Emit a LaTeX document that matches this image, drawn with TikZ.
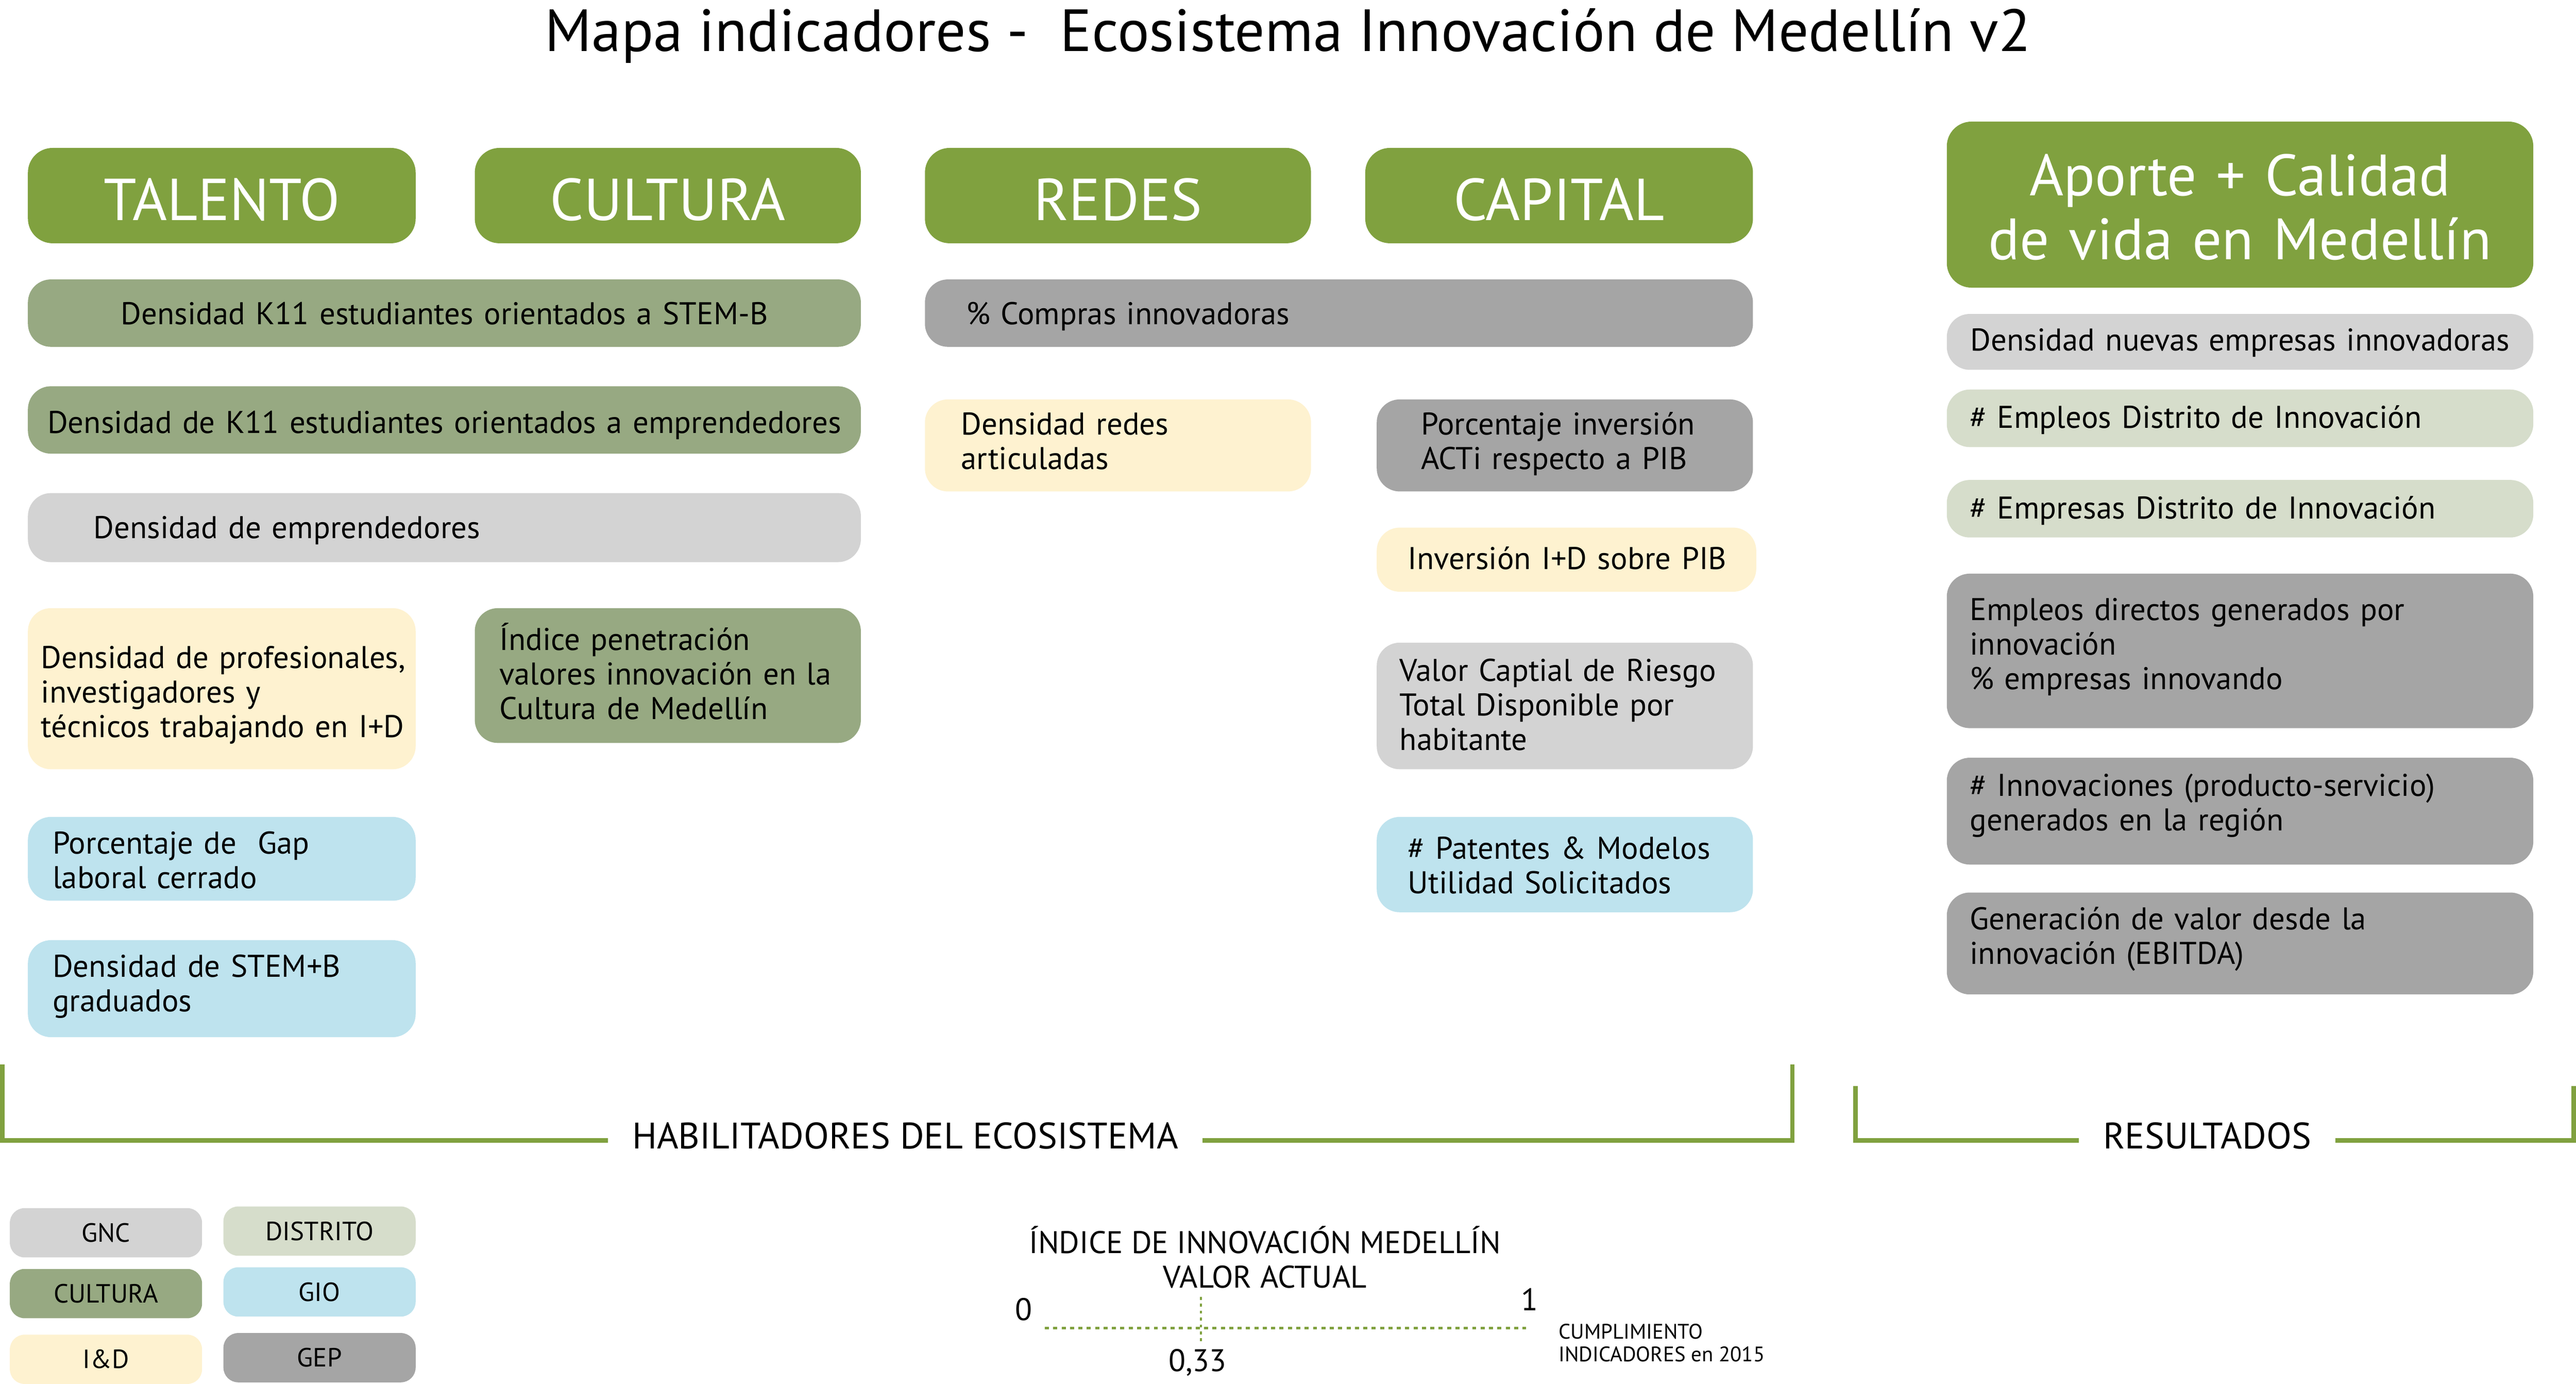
\documentclass[tikz,border=0pt]{standalone}
\usepackage{fontspec}
\setmainfont{PT Sans}
\definecolor{hgreen}{RGB}{128,161,63}
\definecolor{cgreen}{RGB}{151,169,130}
\definecolor{lgray}{RGB}{211,211,211}
\definecolor{mgray}{RGB}{165,165,165}
\definecolor{cream}{RGB}{254,242,208}
\definecolor{lblue}{RGB}{190,227,238}
\definecolor{dgreen}{RGB}{214,221,203}
\begin{document}
\begin{tikzpicture}[x=1pt,y=-1pt,
  box/.style={rounded corners=14pt, inner ysep=0pt, text=black, align=left,
    font=\fontsize{19.1}{21}\selectfont},
  tl/.style 2 args={text height=#1pt, text depth=#2pt},
  hdr/.style={rounded corners=15pt, fill=hgreen, text=white, align=center, inner sep=0pt,
    font=\fontsize{36}{39}\selectfont},
  leg/.style={rounded corners=9pt, minimum width=117, minimum height=30, inner sep=0pt,
    font=\fontsize{16}{17}\selectfont},
  brk/.style={draw=hgreen, line width=2.8pt, line join=miter},
  brktxt/.style={inner xsep=14.5pt, inner ysep=0pt, font=\fontsize{22.4}{24}\selectfont},
  plain/.style={inner sep=0pt, align=center, font=\fontsize{19}{21}\selectfont}
]
\useasboundingbox[fill=white] (0,0) rectangle (1568,842);

% title
\node[inner sep=0pt, anchor=base, font=\fontsize{36.2}{38}\selectfont] (title) at (784,31.3)
  {Mapa indicadores -\ \ Ecosistema Innovación de Medellín v2};

% headers
\node[hdr, tl={30}{0}, minimum width=236, minimum height=58] (talento) at (135,119) {TALENTO};
\node[hdr, tl={30}{0}, minimum width=235, minimum height=58] (cultura) at (406.5,119) {CULTURA};
\node[hdr, tl={30}{0}, minimum width=235, minimum height=58] (redes) at (680.5,119) {REDES};
\node[hdr, tl={30}{0}, minimum width=236, minimum height=58] (capital) at (949,119) {CAPITAL};
\node[hdr, tl={28}{39}, minimum width=357, minimum height=101, text width=341, inner xsep=8pt,
  font=\fontsize{35.5}{39}\selectfont] (aporte) at (1363.5,124.5) {Aporte + Calidad\\de vida en Medellín};

% talento / cultura column
\node[box, tl={14}{0}, fill=cgreen, minimum width=507, minimum height=41, text width=487, inner xsep=10pt, align=center] (stemb) at (270.5,190.5)
  {Densidad K11 estudiantes orientados a STEM-B};
\node[box, tl={16}{0}, fill=cgreen, minimum width=507, minimum height=41, text width=497, inner xsep=5pt, align=center] (k11e) at (270.5,255.5)
  {\mbox{Densidad de K11 estudiantes orientados a emprendedores}};
\node[box, tl={13}{0}, fill=lgray, minimum width=507, minimum height=42, text width=427, inner xsep=40pt] (demp) at (270.5,321)
  {Densidad de emprendedores};
\node[box, tl={17}{42}, fill=cream, minimum width=236, minimum height=98, text width=220, inner xsep=8pt] (prof) at (135,419)
  {\mbox{Densidad de profesionales,}\\\mbox{investigadores y}\\\mbox{técnicos trabajando en I+D}};
\node[box, tl={11}{42}, fill=cgreen, minimum width=235, minimum height=82, text width=205, inner xsep=15pt] (penet) at (406.5,411)
  {\mbox{Índice penetración}\\\mbox{valores innovación en la}\\\mbox{Cultura de Medellín}};
\node[box, tl={15}{21}, fill=lblue, minimum width=236, minimum height=51, text width=206, inner xsep=15pt] (gap) at (135,522.5)
  {\mbox{Porcentaje de\ \ Gap}\\\mbox{laboral cerrado}};
\node[box, tl={7}{21}, fill=lblue, minimum width=236, minimum height=59, text width=206, inner xsep=15pt] (stemg) at (135,601.5)
  {\mbox{Densidad de STEM+B}\\\mbox{graduados}};

% redes / capital column
\node[box, tl={14}{0}, fill=mgray, minimum width=504, minimum height=41, text width=454, inner xsep=25pt] (compras) at (815,190.5)
  {\% Compras innovadoras};
\node[box, tl={8}{21}, fill=cream, minimum width=235, minimum height=56, text width=191, inner xsep=22pt] (redart) at (680.5,271)
  {\mbox{Densidad redes}\\\mbox{articuladas}};
\node[box, tl={8}{21}, fill=mgray, minimum width=229, minimum height=56, text width=175, inner xsep=27pt] (acti) at (952.5,271)
  {\mbox{Porcentaje inversión}\\\mbox{ACTi respecto a PIB}};
\node[box, tl={12}{0}, fill=cream, minimum width=231, minimum height=39, text width=193, inner xsep=19pt] (invid) at (953.5,340.5)
  {\mbox{Inversión I+D sobre PIB}};
\node[box, tl={12}{42}, fill=lgray, minimum width=229, minimum height=77, text width=201, inner xsep=14pt] (valor) at (952.5,429.5)
  {\mbox{Valor Captial de Riesgo}\\\mbox{Total Disponible por}\\\mbox{habitante}};
\node[box, tl={14}{21}, fill=lblue, minimum width=229, minimum height=58, text width=191, inner xsep=19pt] (patent) at (952.5,526)
  {\mbox{\# Patentes \& Modelos}\\\mbox{Utilidad Solicitados}};

% resultados column
\node[box, tl={11}{0}, fill=lgray, minimum width=357, minimum height=34, text width=333, inner xsep=12pt, align=center] (nuevas) at (1363.5,208)
  {\mbox{Densidad nuevas empresas innovadoras}};
\node[box, tl={12}{0}, fill=dgreen, minimum width=357, minimum height=35, text width=329, inner xsep=14pt] (empdist) at (1363.5,254.5)
  {\# Empleos Distrito de Innovación};
\node[box, tl={12}{0}, fill=dgreen, minimum width=357, minimum height=35, text width=329, inner xsep=14pt] (emprdist) at (1363.5,309.5)
  {\# Empresas Distrito de Innovación};
\node[box, tl={5}{42}, fill=mgray, minimum width=357, minimum height=94, text width=329, inner xsep=14pt] (empdir) at (1363.5,396)
  {\mbox{Empleos directos generados por}\\\mbox{innovación}\\\mbox{\% empresas innovando}};
\node[box, tl={3}{21}, fill=mgray, minimum width=357, minimum height=65, text width=329, inner xsep=14pt] (innov) at (1363.5,493.5)
  {\mbox{\# Innovaciones (producto-servicio)}\\\mbox{generados en la región}};
\node[box, tl={4}{21}, fill=mgray, minimum width=357, minimum height=62, text width=329, inner xsep=14pt] (ebitda) at (1363.5,574)
  {\mbox{Generación de valor desde la}\\\mbox{innovación (EBITDA)}};

% brackets
\node[brktxt] (hab) at (551,691) {HABILITADORES DEL ECOSISTEMA};
\node[brktxt] (res) at (1343.5,691) {RESULTADOS};
\coordinate (hl1) at (1.4,647.7);
\coordinate (hb) at (0,693.7);
\coordinate (hr1) at (1091,647.7);
\coordinate (rl1) at (1129.3,660.9);
\coordinate (rr1) at (1566.6,660.9);
\draw[brk] (hl1) |- (hab.west |- hb);
\draw[brk] (hab.east |- hb) -| (hr1);
\draw[brk] (rl1) |- (res.west |- hb);
\draw[brk] (res.east |- hb) -| (rr1);

% legend
\node[leg, fill=lgray] (lgnc) at (64.5,750) {GNC};
\node[leg, fill=dgreen] (ldist) at (194.5,749) {DISTRITO};
\node[leg, fill=cgreen] (lcult) at (64.5,787) {CULTURA};
\node[leg, fill=lblue] (lgio) at (194.5,786) {GIO};
\node[leg, fill=cream] (lid) at (64.5,827) {I\&D};
\node[leg, fill=mgray] (lgep) at (194.5,826) {GEP};

% index
\node[plain] (idx) at (770,765) {ÍNDICE DE INNOVACIÓN MEDELLÍN\\VALOR ACTUAL};
\node[plain] (zero) at (623,796.5) {0};
\node[plain] (one) at (931,790.5) {1};
\node[plain] (val) at (729,829) {0,33};
\node[inner sep=0pt, align=left, anchor=west, font=\fontsize{12.8}{14}\selectfont] (cump) at (948.5,817)
  {CUMPLIMIENTO\\INDICADORES en 2015};
\coordinate (d0) at (636,808);
\coordinate (d1) at (929,808);
\coordinate (v0) at (731,789);
\coordinate (v1) at (731,817);
\draw[hgreen, line width=1.8pt, dash pattern=on 2.5pt off 2.6pt] (d0) -- (d1);
\draw[hgreen, line width=1pt, dash pattern=on 1.8pt off 2.4pt] (v0) -- (v1);
\end{tikzpicture}
\end{document}
